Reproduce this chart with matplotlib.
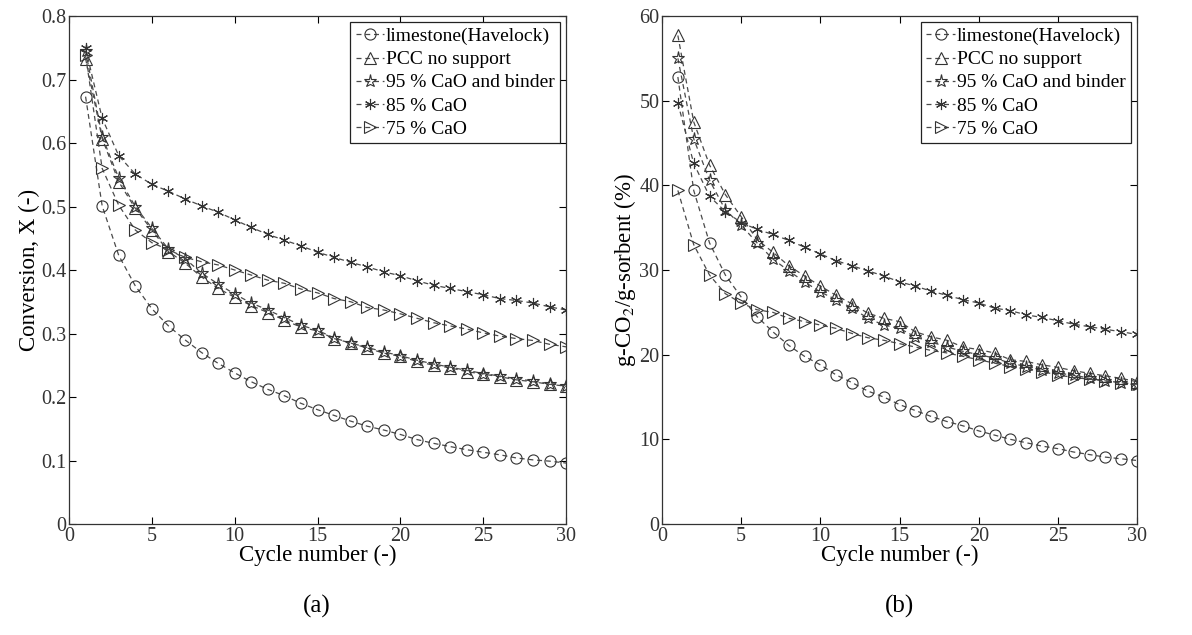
import numpy as np
import matplotlib
matplotlib.use("Agg")
import matplotlib.pyplot as plt

plt.rcParams['font.family'] = ['Liberation Serif', 'DejaVu Serif']
plt.rcParams['mathtext.fontset'] = 'stix'

cycles = np.arange(1, 31)
labels = ["limestone(Havelock)", "PCC no support", "95 % CaO and binder",
          "85 % CaO", "75 % CaO"]
markers = ['o', '^', '*', (6, 2, 0), '>']

# (a) conversion X (-)
conv_limestone = [0.673, 0.501, 0.423, 0.375, 0.339, 0.312, 0.290, 0.270, 0.253, 0.238,
                  0.224, 0.212, 0.202, 0.190, 0.180, 0.171, 0.162, 0.154, 0.148, 0.141,
                  0.133, 0.127, 0.122, 0.117, 0.113, 0.109, 0.104, 0.101, 0.099, 0.096]
conv_pcc = [0.733, 0.607, 0.539, 0.497, 0.463, 0.429, 0.411, 0.389, 0.371, 0.357,
            0.344, 0.333, 0.321, 0.310, 0.304, 0.292, 0.285, 0.277, 0.269, 0.264,
            0.256, 0.250, 0.246, 0.240, 0.236, 0.232, 0.227, 0.224, 0.220, 0.217]
conv_95 = [0.745, 0.610, 0.545, 0.500, 0.466, 0.433, 0.418, 0.395, 0.378, 0.362,
           0.348, 0.337, 0.325, 0.313, 0.305, 0.293, 0.285, 0.278, 0.271, 0.265,
           0.258, 0.252, 0.247, 0.242, 0.237, 0.233, 0.229, 0.225, 0.221, 0.218]
conv_85 = [0.749, 0.639, 0.580, 0.551, 0.535, 0.524, 0.512, 0.501, 0.491, 0.479,
           0.467, 0.456, 0.447, 0.438, 0.428, 0.420, 0.412, 0.405, 0.397, 0.391,
           0.383, 0.376, 0.371, 0.366, 0.361, 0.355, 0.352, 0.348, 0.342, 0.337]
conv_75 = [0.738, 0.560, 0.502, 0.463, 0.443, 0.432, 0.420, 0.413, 0.408, 0.400,
           0.392, 0.384, 0.379, 0.370, 0.364, 0.355, 0.350, 0.341, 0.337, 0.331,
           0.324, 0.317, 0.312, 0.307, 0.301, 0.296, 0.292, 0.289, 0.283, 0.279]

# (b) g-CO2 / g-sorbent (%)
cap_limestone = [52.8, 39.4, 33.2, 29.4, 26.8, 24.5, 22.7, 21.1, 19.8, 18.8,
                 17.6, 16.7, 15.7, 15.0, 14.1, 13.4, 12.7, 12.1, 11.6, 11.0,
                 10.5, 10.0, 9.6, 9.2, 8.9, 8.5, 8.2, 7.9, 7.7, 7.5]
cap_pcc = [57.7, 47.5, 42.4, 38.9, 36.3, 33.6, 32.1, 30.5, 29.3, 28.1,
           27.0, 26.0, 24.9, 24.3, 23.9, 22.7, 22.1, 21.7, 20.9, 20.6,
           20.2, 19.4, 19.2, 18.8, 18.5, 18.1, 17.8, 17.5, 17.2, 16.8]
cap_95 = [55.0, 45.5, 40.6, 37.1, 35.3, 33.2, 31.3, 29.9, 28.6, 27.4,
          26.5, 25.5, 24.3, 23.5, 23.1, 22.1, 21.5, 20.9, 20.4, 20.0,
          19.6, 19.0, 18.6, 18.2, 17.8, 17.6, 17.2, 16.9, 16.7, 16.4]
cap_85 = [49.7, 42.6, 38.7, 36.9, 35.6, 34.8, 34.2, 33.5, 32.7, 31.9,
          31.1, 30.5, 29.9, 29.3, 28.6, 28.1, 27.5, 27.0, 26.5, 26.1,
          25.5, 25.2, 24.7, 24.4, 24.0, 23.6, 23.3, 23.0, 22.7, 22.4]
cap_75 = [39.4, 33.0, 29.4, 27.2, 26.1, 25.3, 25.0, 24.3, 23.9, 23.5,
          23.1, 22.5, 22.0, 21.7, 21.3, 20.9, 20.5, 20.2, 19.8, 19.4,
          19.0, 18.6, 18.3, 18.0, 17.6, 17.3, 17.1, 16.9, 16.7, 16.5]

conv_series = [conv_limestone, conv_pcc, conv_95, conv_85, conv_75]
cap_series = [cap_limestone, cap_pcc, cap_95, cap_85, cap_75]

fig = plt.figure(figsize=(11.92, 6.35), dpi=100)
ax1 = fig.add_axes([0.0579, 0.1748, 0.4170, 0.8])
ax2 = fig.add_axes([0.5554, 0.1748, 0.3985, 0.8])

line_col = '#4a4a4a'


def draw(ax, series, ymax, ystep, ylabel, yfmt):
    for vals, lab, mk in zip(series, labels, markers):
        ms = 9.5 if mk == '*' else 8
        ax.plot(cycles, vals, linestyle=(0, (4, 3)), color=line_col, lw=0.9,
                marker=mk, markersize=ms, markerfacecolor='none',
                markeredgecolor='#333333', markeredgewidth=0.8, label=lab)
    ax.set_xlim(0, 30)
    ax.set_ylim(0, ymax)
    ax.set_xticks(np.arange(0, 31, 5))
    yt = np.arange(0, ymax + ystep / 2, ystep)
    ax.set_yticks(yt)
    ax.set_yticklabels([yfmt(v) for v in yt])
    ax.tick_params(direction='in', top=True, right=True, labelsize=14.5,
                   length=5, width=0.8, pad=2, labelcolor='#333333')
    for s in ax.spines.values():
        s.set_linewidth(0.9)
        s.set_color('#333333')
    ax.set_xlabel("Cycle number (-)", fontsize=16.5, labelpad=-1)
    ax.set_ylabel(ylabel, fontsize=16.5, labelpad=1)
    leg = ax.legend(loc='upper right', fontsize=14, handlelength=1.45,
                    handletextpad=0.1, labelspacing=0.28, borderpad=0.3,
                    borderaxespad=0.3, fancybox=False, framealpha=1)
    leg.get_frame().set_edgecolor('#222222')
    leg.get_frame().set_linewidth(0.9)


draw(ax1, conv_series, 0.8, 0.1, "Conversion, X (-)",
     lambda v: "0" if v == 0 else f"{v:.1f}")
draw(ax2, cap_series, 60, 10, r"g-CO$_2$/g-sorbent (%)",
     lambda v: f"{int(round(v))}")

fig.text(0.266, 0.045, "(a)", fontsize=18, ha='center', va='center')
fig.text(0.755, 0.045, "(b)", fontsize=18, ha='center', va='center')

fig.savefig("out.png", dpi=100)
